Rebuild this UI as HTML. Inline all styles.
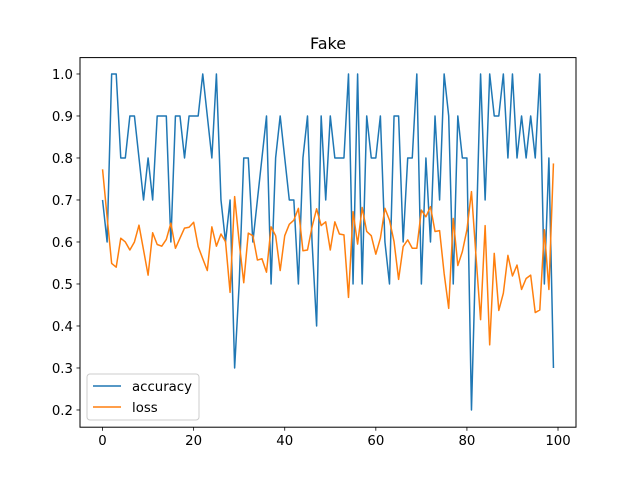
<!DOCTYPE html>
<html><head><meta charset="utf-8"><style>
body{margin:0;background:#fff}
svg{display:block;font-family:"DejaVu Sans","Liberation Sans",sans-serif}
</style></head><body>
<svg id="chart" width="640" height="480" viewBox="0 0 640 480">
<rect width="640" height="480" fill="#fff"/>
<text x="328" y="49" font-size="16" text-anchor="middle" fill="#000">Fake</text>
<g id="lines"></g>
<rect x="80" y="57.6" width="496" height="369.6" fill="none" stroke="#000" stroke-width="1"/>
<g id="ticks"></g>
<g>
<rect x="87" y="374" width="112" height="46" rx="3" fill="#fff" fill-opacity="0.8" stroke="#ccc"/>
<line x1="93" y1="386" x2="121" y2="386" stroke="#1f77b4" stroke-width="1.5"/>
<text x="132" y="391" font-size="13.3">accuracy</text>
<line x1="93" y1="407" x2="121" y2="407" stroke="#ff7f0e" stroke-width="1.5"/>
<text x="132" y="412" font-size="13.3">loss</text>
</g>
</svg>
<script>
const accuracy=[0.7,0.6,1.0,1.0,0.8,0.8,0.9,0.9,0.8,0.7,0.8,0.7,0.9,0.9,0.9,0.6,0.9,0.9,0.8,0.9,0.9,0.9,1.0,0.9,0.8,1.0,0.7,0.6,0.7,0.3,0.5,0.8,0.8,0.6,0.7,0.8,0.9,0.5,0.8,0.9,0.8,0.7,0.7,0.5,0.8,0.9,0.6,0.4,0.9,0.7,0.9,0.8,0.8,0.8,1.0,0.5,1.0,0.5,0.9,0.8,0.8,0.9,0.6,0.5,0.9,0.9,0.6,0.8,0.8,1.0,0.5,0.8,0.6,0.9,0.7,1.0,0.9,0.5,0.9,0.8,0.8,0.2,0.6,1.0,0.7,1.0,0.9,0.9,1.0,0.8,1.0,0.8,0.9,0.8,0.9,0.8,1.0,0.5,0.8,0.3];
const loss=[0.773,0.66,0.549,0.54,0.609,0.60,0.581,0.60,0.64,0.581,0.521,0.622,0.594,0.59,0.606,0.645,0.585,0.609,0.633,0.635,0.647,0.589,0.56,0.532,0.636,0.590,0.619,0.601,0.480,0.708,0.6,0.503,0.621,0.615,0.557,0.560,0.528,0.636,0.615,0.532,0.615,0.642,0.652,0.680,0.579,0.581,0.636,0.679,0.639,0.648,0.581,0.648,0.619,0.617,0.468,0.672,0.595,0.682,0.625,0.615,0.571,0.609,0.680,0.652,0.601,0.511,0.589,0.605,0.585,0.585,0.676,0.660,0.684,0.625,0.627,0.525,0.442,0.656,0.544,0.577,0.629,0.720,0.565,0.415,0.639,0.355,0.573,0.437,0.478,0.568,0.519,0.545,0.487,0.513,0.521,0.432,0.438,0.629,0.487,0.787];
const xTicks=[0,20,40,60,80,100];
const yTicks=[0.2,0.3,0.4,0.5,0.6,0.7,0.8,0.9,1.0];
const L=80,T=57.6,W=496,H=369.6;
const xMin=-4.95,xMax=103.95,yMin=0.159,yMax=1.039;
function xs(v){return L+(v-xMin)/(xMax-xMin)*W;}
function ys(v){return T+H-(v-yMin)/(yMax-yMin)*H;}
const NS="http://www.w3.org/2000/svg";
const lines=document.getElementById('lines'),ticks=document.getElementById('ticks');
function mk(tag,attrs,parent){const e=document.createElementNS(NS,tag);for(const k in attrs)e.setAttribute(k,attrs[k]);parent.appendChild(e);return e;}
function series(arr,color,name){
  const p=mk('polyline',{points:arr.map((v,i)=>xs(i).toFixed(2)+','+ys(v).toFixed(2)).join(' '),fill:'none',stroke:color,'stroke-width':1.5,'stroke-linejoin':'round'},lines);
  
  
}
series(accuracy,'#1f77b4','accuracy-line');
series(loss,'#ff7f0e','loss-line');
xTicks.forEach(t=>{
  const x=xs(t);
  const l=mk('line',{x1:x,y1:T+H,x2:x,y2:T+H+3.5,stroke:'#000','stroke-width':0.8},ticks);
  
  
  const tx=mk('text',{x:x,y:T+H+18,'font-size':13.3,'text-anchor':'middle'},ticks);
  tx.textContent=String(t);
  
  
});
yTicks.forEach(t=>{
  const y=ys(t);
  const l=mk('line',{x1:L-3.5,y1:y,x2:L,y2:y,stroke:'#000','stroke-width':0.8},ticks);
  
  
  const tx=mk('text',{x:L-7,y:y+5,'font-size':13.3,'text-anchor':'end'},ticks);
  tx.textContent=t.toFixed(1);
  
  
});
</script>
</body></html>
